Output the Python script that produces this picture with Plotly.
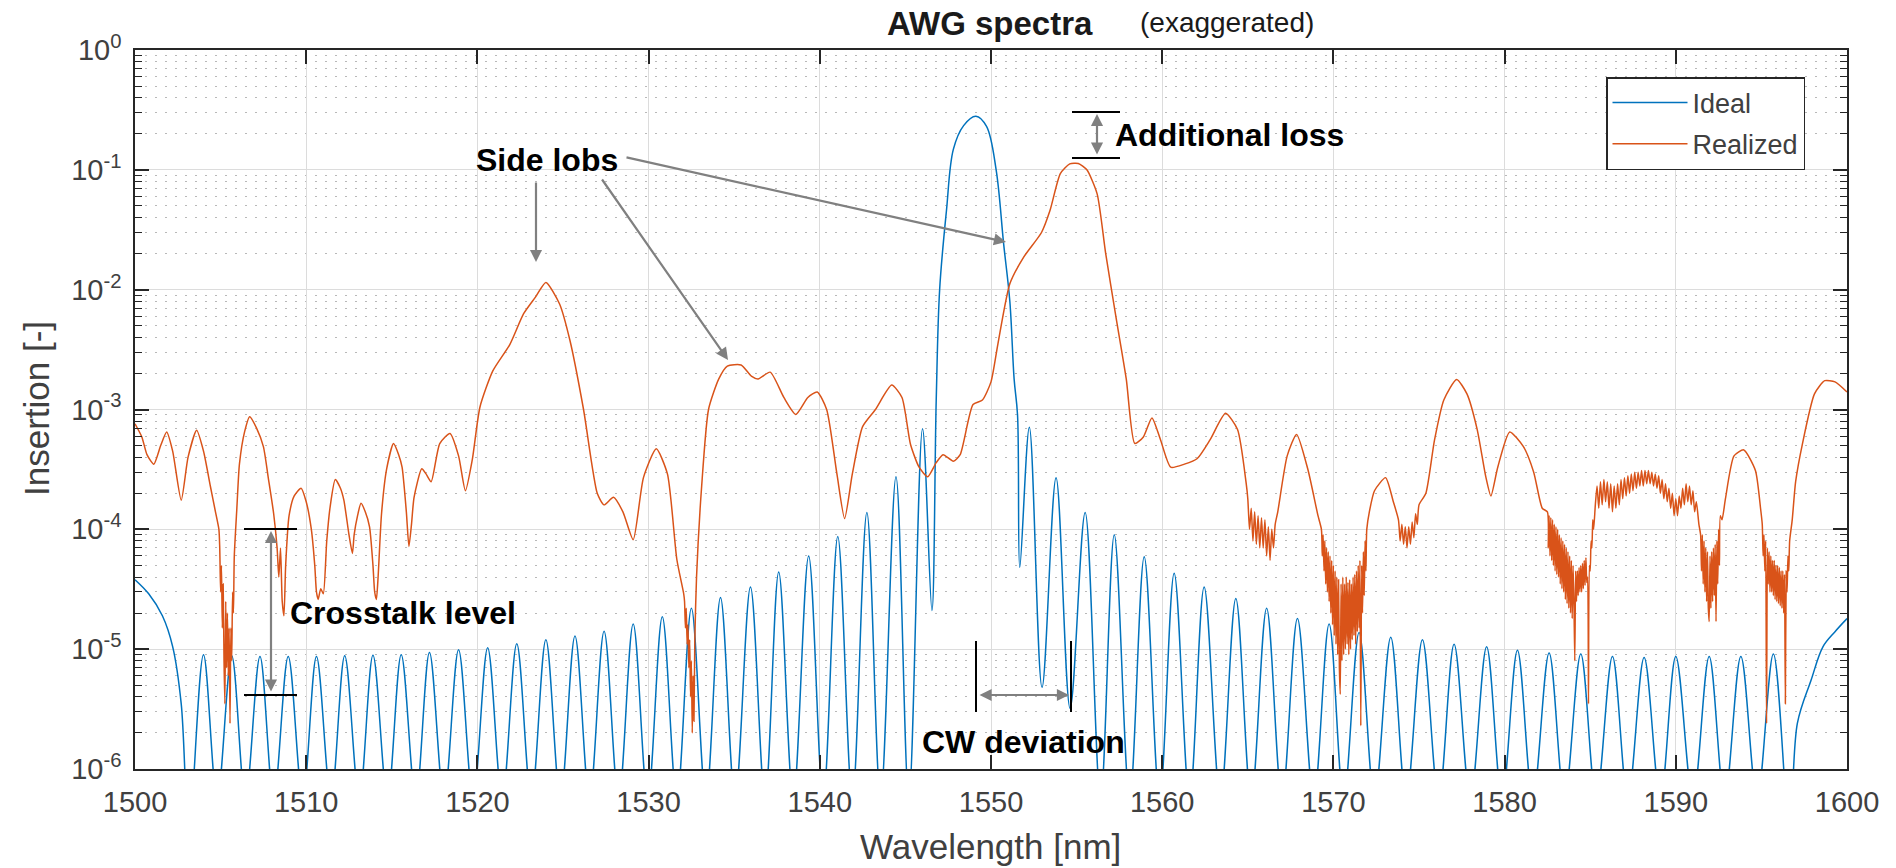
import plotly.graph_objects as go

# ---------------- data ----------------
x_ticks = [1500, 1510, 1520, 1530, 1540, 1550, 1560, 1570, 1580, 1590, 1600]
y_tick_vals = [1e-6, 1e-5, 1e-4, 1e-3, 1e-2, 1e-1, 1]
y_tick_text = ["10<sup>-6</sup>", "10<sup>-5</sup>", "10<sup>-4</sup>", "10<sup>-3</sup>",
               "10<sup>-2</sup>", "10<sup>-1</sup>", "10<sup>0</sup>"]

ideal_nm = [
    1500.0, 1500.8, 1501.6, 1502.2, 1502.7, 1503.15,
    1504.0, 1504.8, 1505.65, 1506.45, 1507.3, 1508.1, 1508.95, 1509.8, 1510.6, 1511.45,
    1512.25, 1513.1, 1513.9, 1514.75, 1515.55, 1516.4, 1517.2, 1518.05, 1518.9, 1519.75,
    1520.6, 1521.45, 1522.3, 1523.15, 1524.0, 1524.85, 1525.7, 1526.55, 1527.4, 1528.25,
    1529.1, 1529.95, 1530.8, 1531.65, 1532.5, 1533.35, 1534.2, 1535.05, 1535.95, 1536.8,
    1537.6, 1538.45, 1539.35, 1540.2, 1541.05, 1541.9, 1542.75, 1543.55, 1544.45, 1545.2,
    1546.0, 1546.55,
    1546.8, 1547.0, 1547.4, 1547.8, 1548.4, 1549.12, 1549.74, 1550.3, 1550.74, 1551.1,
    1551.35, 1551.55, 1551.68,
    1552.24, 1552.98, 1553.8, 1554.62, 1555.5, 1556.4, 1557.2, 1558.1, 1558.95, 1559.85,
    1560.7, 1561.6, 1562.45, 1563.4, 1564.3, 1565.2, 1566.1, 1567.0, 1567.9, 1568.85,
    1569.75, 1570.6, 1571.5, 1572.4, 1573.35, 1574.25, 1575.2, 1576.15, 1577.05, 1578.0,
    1578.95, 1579.85, 1580.75, 1581.65, 1582.6, 1583.5, 1584.45, 1585.35, 1586.3, 1587.2,
    1588.15, 1589.1, 1590.0, 1591.0, 1591.95, 1592.85, 1593.8, 1594.75, 1595.7, 1596.65,
    1597.1, 1597.9, 1598.6, 1599.3, 1600.0,
]
ideal_val = [
    3.8e-5, 2.9e-5, 1.9e-5, 1.05e-5, 3.5e-6, 3e-7,
    9.0e-6, 5.6e-7, 8.8e-6, 5.6e-7, 8.7e-6, 5.6e-7, 8.7e-6, 5.6e-7, 8.7e-6, 5.6e-7,
    8.8e-6, 5.6e-7, 8.9e-6, 5.6e-7, 9.0e-6, 5.6e-7, 9.4e-6, 5.6e-7, 9.9e-6, 5.6e-7,
    1.03e-5, 5.6e-7, 1.11e-5, 5.6e-7, 1.2e-5, 5.6e-7, 1.29e-5, 5.6e-7, 1.41e-5, 5.6e-7,
    1.62e-5, 5.6e-7, 1.86e-5, 5.6e-7, 2.2e-5, 5.6e-7, 2.7e-5, 5.6e-7, 3.3e-5, 5.6e-7,
    4.4e-5, 5.6e-7, 6.0e-5, 5.6e-7, 8.7e-5, 5.6e-7, 1.38e-4, 5.6e-7, 2.75e-4, 5.6e-7,
    6.9e-4, 2.1e-5,
    1.2e-3, 1.0e-2, 4.6e-2, 0.148, 0.234, 0.28, 0.23, 0.1, 2.4e-2, 8e-3,
    1.8e-3, 9e-4, 4.8e-5,
    7.1e-4, 4.8e-6, 2.7e-4, 3.2e-6, 1.38e-4, 5.6e-7, 9e-5, 5.6e-7, 5.9e-5, 5.6e-7,
    4.3e-5, 5.6e-7, 3.3e-5, 5.6e-7, 2.65e-5, 5.6e-7, 2.2e-5, 5.6e-7, 1.8e-5, 5.6e-7,
    1.62e-5, 5.6e-7, 1.38e-5, 5.6e-7, 1.26e-5, 5.6e-7, 1.2e-5, 5.6e-7, 1.1e-5, 5.6e-7,
    1.05e-5, 5.6e-7, 9.8e-6, 5.6e-7, 9.3e-6, 5.6e-7, 9.1e-6, 5.6e-7, 8.7e-6, 5.6e-7,
    8.5e-6, 5.6e-7, 8.7e-6, 5.6e-7, 8.7e-6, 5.6e-7, 8.7e-6, 5.6e-7, 9.1e-6, 3e-7,
    2.4e-6, 5.5e-6, 1.05e-5, 1.4e-5, 1.8e-5,
]

# (wavelength nm, insertion) pairs of the realized spectrum
realized_points = [
    (1500.0, 7.6e-4), (1500.4, 5.9e-4), (1500.7, 4.2e-4), (1501.1, 3.5e-4), (1501.5, 5.0e-4),
    (1501.85, 6.5e-4), (1502.2, 4.5e-4), (1502.7, 1.75e-4), (1503.1, 4.0e-4), (1503.6, 6.7e-4),
    (1504.0, 4.5e-4), (1504.4, 2.3e-4), (1504.7, 1.4e-4), (1504.9, 1.0e-4),
    (1504.95, 7e-5), (1505.0, 3e-5), (1505.05, 5e-5), (1505.1, 1.5e-5), (1505.15, 3.5e-5),
    (1505.2, 8e-6), (1505.25, 3.5e-6), (1505.3, 2.5e-5), (1505.35, 7e-6), (1505.4, 2e-5),
    (1505.45, 6e-6), (1505.5, 1.5e-5), (1505.55, 2.4e-6), (1505.6, 1.5e-5), (1505.65, 8e-6),
    (1505.7, 3e-5), (1505.75, 2e-5), (1505.8, 6e-5),
    (1505.95, 1.5e-4), (1506.1, 3.5e-4), (1506.4, 6.5e-4), (1506.7, 8.7e-4), (1507.1, 7e-4),
    (1507.5, 4.9e-4), (1507.8, 2.6e-4), (1508.1, 1.35e-4), (1508.3, 7e-5),
    (1508.4, 4e-5), (1508.5, 7e-5), (1508.6, 2.5e-5), (1508.7, 1.9e-5), (1508.8, 5e-5),
    (1509.0, 1.3e-4), (1509.3, 1.9e-4), (1509.7, 2.2e-4), (1510.0, 1.7e-4), (1510.3, 1.0e-4),
    (1510.5, 5e-5), (1510.6, 3e-5), (1510.7, 2.6e-5), (1510.85, 3.2e-5), (1511.0, 2.9e-5),
    (1511.2, 8e-5), (1511.4, 1.55e-4), (1511.7, 2.6e-4), (1512.0, 2.2e-4), (1512.2, 1.75e-4),
    (1512.5, 9e-5), (1512.7, 6.3e-5), (1512.8, 9e-5), (1513.0, 1.3e-4), (1513.2, 1.65e-4),
    (1513.45, 1.4e-4), (1513.7, 1.05e-4), (1513.9, 5e-5), (1514.0, 3e-5), (1514.1, 2.6e-5),
    (1514.2, 4e-5), (1514.4, 1.35e-4), (1514.7, 3.2e-4), (1515.1, 5.2e-4), (1515.4, 4.2e-4),
    (1515.6, 3.3e-4), (1515.85, 1.4e-4), (1516.0, 7.2e-5), (1516.15, 1.1e-4), (1516.3, 1.85e-4),
    (1516.75, 3.2e-4), (1517.0, 2.9e-4), (1517.3, 2.5e-4), (1517.8, 5.2e-4), (1518.4, 6.3e-4),
    (1518.9, 4.1e-4), (1519.3, 2.1e-4), (1519.7, 3.8e-4), (1520.15, 1.05e-3), (1520.9, 2.1e-3),
    (1521.9, 3.5e-3), (1522.7, 6.3e-3), (1523.4, 8.7e-3), (1524.0, 1.15e-2), (1524.8, 7.6e-3),
    (1525.4, 3.8e-3), (1526.2, 1.0e-3), (1527.0, 2.0e-4), (1527.4, 1.6e-4), (1527.95, 1.85e-4),
    (1528.5, 1.4e-4), (1529.1, 8.2e-5), (1529.7, 2.7e-4), (1530.45, 4.7e-4), (1531.1, 2.9e-4),
    (1531.65, 5.6e-5), (1532.05, 2.9e-5),
    (1532.1, 2.5e-5), (1532.15, 1.5e-5), (1532.2, 2.2e-5), (1532.25, 1.1e-5), (1532.3, 1.6e-5),
    (1532.35, 7e-6), (1532.4, 1.2e-5), (1532.45, 4e-6), (1532.5, 8e-6), (1532.55, 2e-6),
    (1532.6, 6e-6), (1532.65, 2.5e-6), (1532.7, 1.2e-5), (1532.8, 4e-5),
    (1533.1, 2.3e-4), (1533.5, 1.0e-3), (1534.1, 1.8e-3), (1534.6, 2.3e-3), (1535.4, 2.35e-3),
    (1536.0, 1.9e-3), (1536.4, 1.8e-3), (1537.1, 2.05e-3), (1537.9, 1.26e-3), (1538.6, 9.1e-4),
    (1539.3, 1.26e-3), (1539.85, 1.4e-3), (1540.4, 1.0e-3), (1541.0, 2.9e-4), (1541.45, 1.23e-4),
    (1541.9, 2.9e-4), (1542.5, 7.2e-4), (1543.25, 1.0e-3), (1544.2, 1.6e-3), (1544.8, 1.26e-3),
    (1545.3, 5.1e-4), (1545.8, 3.3e-4), (1546.3, 2.75e-4), (1546.8, 3.6e-4), (1547.2, 4.2e-4),
    (1547.8, 3.7e-4), (1548.2, 4.2e-4), (1548.95, 1.1e-3), (1549.5, 1.2e-3), (1550.0, 1.7e-3),
    (1550.4, 3.5e-3), (1551.1, 1.12e-2), (1551.9, 1.86e-2), (1552.95, 3.0e-2), (1553.45, 4.6e-2),
    (1554.05, 9.3e-2), (1554.6, 0.112), (1555.1, 0.113), (1555.6, 0.1), (1556.2, 6.3e-2),
    (1556.7, 2.0e-2), (1557.3, 5.9e-3), (1557.9, 1.8e-3), (1558.4, 5.2e-4), (1558.9, 5.9e-4),
    (1559.4, 8.5e-4), (1559.9, 5.6e-4), (1560.5, 3.3e-4), (1561.3, 3.5e-4), (1562.05, 3.9e-4),
    (1562.8, 5.6e-4), (1563.7, 9.3e-4), (1564.4, 6.8e-4), (1564.9, 2.45e-4),
    (1565.0, 1.8e-4), (1565.1, 1.0e-4), (1565.2, 1.5e-4), (1565.3, 8e-5), (1565.4, 1.4e-4),
    (1565.5, 7.5e-5), (1565.6, 1.3e-4), (1565.7, 7e-5), (1565.8, 1.25e-4), (1565.9, 7e-5),
    (1566.0, 1.2e-4), (1566.1, 6e-5), (1566.2, 1.05e-4), (1566.3, 5.5e-5), (1566.4, 1.0e-4),
    (1566.5, 7e-5), (1566.6, 1.1e-4),
    (1566.75, 1.4e-4), (1567.3, 4.1e-4), (1567.85, 6.2e-4), (1568.5, 3.2e-4), (1569.1, 1.3e-4),
    (1569.3, 1.0e-4), (1569.35, 6e-5), (1569.4, 9e-5), (1569.45, 4.5e-5), (1569.5, 8e-5),
    (1569.55, 3.5e-5), (1569.6, 7e-5), (1569.65, 3e-5), (1569.7, 6.5e-5), (1569.75, 2.5e-5),
    (1569.8, 6e-5), (1569.85, 2e-5), (1569.9, 5.5e-5), (1569.95, 1.6e-5), (1570.0, 5e-5),
    (1570.05, 1.3e-5), (1570.1, 4.5e-5), (1570.15, 1.1e-5), (1570.2, 4e-5), (1570.25, 9e-6),
    (1570.3, 3.8e-5), (1570.35, 7e-6), (1570.4, 4.2e-6), (1570.45, 3.5e-5), (1570.5, 8e-6),
    (1570.55, 4e-5), (1570.6, 9e-6), (1570.65, 3.5e-5), (1570.7, 1e-5), (1570.75, 4e-5),
    (1570.8, 1.1e-5), (1570.85, 3.6e-5), (1570.9, 9e-6), (1570.95, 3.8e-5), (1571.0, 1e-5),
    (1571.05, 3.5e-5), (1571.1, 1.2e-5), (1571.15, 4e-5), (1571.2, 1.3e-5), (1571.25, 4.2e-5),
    (1571.3, 1.1e-5), (1571.35, 4.5e-5), (1571.4, 1.4e-5), (1571.45, 5e-5), (1571.5, 1.5e-5),
    (1571.55, 5.5e-5), (1571.6, 2.3e-6), (1571.65, 5e-5), (1571.7, 2e-5), (1571.75, 6.5e-5),
    (1571.8, 2.8e-5), (1571.85, 8e-5), (1571.9, 4.5e-5), (1571.95, 1.0e-4),
    (1572.1, 1.4e-4), (1572.4, 2.1e-4), (1573.05, 2.7e-4), (1573.5, 1.7e-4),
    (1573.8, 1.2e-4), (1573.9, 8e-5), (1574.0, 1.1e-4), (1574.1, 7.5e-5), (1574.2, 1.05e-4),
    (1574.3, 7e-5), (1574.4, 1.05e-4), (1574.5, 7.5e-5), (1574.6, 1.15e-4), (1574.7, 8.5e-5),
    (1574.8, 1.35e-4), (1574.9, 1.1e-4), (1575.0, 1.6e-4),
    (1575.4, 2.0e-4), (1575.9, 5.5e-4), (1576.45, 1.2e-3), (1577.2, 1.78e-3), (1577.8, 1.35e-3),
    (1578.4, 6.8e-4), (1578.9, 2.75e-4), (1579.2, 1.9e-4), (1579.6, 3.3e-4), (1580.3, 6.5e-4),
    (1581.1, 4.9e-4), (1581.7, 3.0e-4), (1582.2, 1.5e-4),
    (1582.5, 1.4e-4), (1582.55, 7e-5), (1582.6, 1.3e-4), (1582.65, 6e-5), (1582.7, 1.25e-4),
    (1582.75, 5.5e-5), (1582.8, 1.2e-4), (1582.85, 5e-5), (1582.9, 1.1e-4), (1582.95, 4.5e-5),
    (1583.0, 1.05e-4), (1583.05, 4.2e-5), (1583.1, 1.0e-4), (1583.15, 4e-5), (1583.2, 9e-5),
    (1583.25, 3.5e-5), (1583.3, 8.5e-5), (1583.35, 3.2e-5), (1583.4, 8e-5), (1583.45, 3e-5),
    (1583.5, 7.5e-5), (1583.55, 2.6e-5), (1583.6, 7e-5), (1583.65, 2.4e-5), (1583.7, 6.5e-5),
    (1583.75, 2.2e-5), (1583.8, 6e-5), (1583.85, 2e-5), (1583.9, 5.5e-5), (1583.95, 1.8e-5),
    (1584.0, 5e-5), (1584.05, 2.5e-5), (1584.1, 8e-6), (1584.15, 4.5e-5), (1584.2, 2.5e-5),
    (1584.25, 4.5e-5), (1584.3, 2.8e-5), (1584.35, 4.8e-5), (1584.4, 3e-5), (1584.45, 5e-5),
    (1584.5, 3e-5), (1584.55, 5.2e-5), (1584.6, 3.2e-5), (1584.65, 5.5e-5), (1584.7, 3.4e-5),
    (1584.75, 5.8e-5), (1584.8, 3.6e-5), (1584.85, 4e-5), (1584.9, 3.5e-6), (1584.95, 5e-5),
    (1585.0, 4.5e-5), (1585.05, 8e-5), (1585.1, 7e-5), (1585.15, 1.2e-4), (1585.2, 1.0e-4),
    (1585.3, 1.6e-4), (1585.4, 2.3e-4), (1585.5, 1.5e-4), (1585.6, 2.5e-4), (1585.7, 1.6e-4),
    (1585.8, 2.6e-4), (1585.9, 1.7e-4), (1586.0, 2.5e-4), (1586.1, 1.5e-4), (1586.2, 2.4e-4),
    (1586.3, 1.4e-4), (1586.4, 2.3e-4), (1586.5, 1.5e-4), (1586.6, 2.4e-4), (1586.7, 1.6e-4),
    (1586.8, 2.6e-4), (1586.9, 1.8e-4), (1587.0, 2.7e-4), (1587.1, 1.9e-4), (1587.2, 2.8e-4),
    (1587.3, 2.0e-4), (1587.4, 2.9e-4), (1587.5, 2.1e-4), (1587.6, 3.0e-4), (1587.7, 2.2e-4),
    (1587.8, 3.0e-4), (1587.9, 2.3e-4), (1588.0, 3.1e-4), (1588.1, 2.3e-4), (1588.2, 3.1e-4),
    (1588.3, 2.4e-4), (1588.4, 3.1e-4), (1588.5, 2.4e-4), (1588.6, 3.0e-4), (1588.7, 2.3e-4),
    (1588.8, 2.9e-4), (1588.9, 2.2e-4), (1589.0, 2.8e-4), (1589.1, 2.0e-4), (1589.2, 2.6e-4),
    (1589.3, 1.8e-4), (1589.4, 2.4e-4), (1589.5, 1.7e-4), (1589.6, 2.2e-4), (1589.7, 1.5e-4),
    (1589.8, 2.0e-4), (1589.9, 1.3e-4), (1590.0, 1.8e-4), (1590.1, 1.3e-4), (1590.2, 1.9e-4),
    (1590.3, 1.5e-4), (1590.4, 2.2e-4), (1590.5, 1.6e-4), (1590.6, 2.4e-4), (1590.7, 1.7e-4),
    (1590.8, 2.3e-4), (1590.9, 1.6e-4), (1591.0, 2.1e-4), (1591.1, 1.4e-4), (1591.2, 1.7e-4),
    (1591.35, 1.1e-4),
    (1591.45, 9e-5), (1591.5, 4.5e-5), (1591.55, 9e-5), (1591.6, 3.5e-5), (1591.65, 8e-5),
    (1591.7, 3e-5), (1591.75, 7e-5), (1591.8, 2.5e-5), (1591.85, 6.5e-5), (1591.9, 2.2e-5),
    (1591.95, 1.7e-5), (1592.0, 6e-5), (1592.05, 2.2e-5), (1592.1, 6.5e-5), (1592.15, 2.5e-5),
    (1592.2, 7e-5), (1592.25, 2.8e-5), (1592.3, 7.5e-5), (1592.35, 1.7e-5), (1592.4, 8e-5),
    (1592.45, 3.5e-5), (1592.5, 1.0e-4), (1592.55, 5e-5), (1592.6, 1.3e-4), (1592.7, 1.2e-4),
    (1592.9, 1.8e-4), (1593.4, 4.1e-4), (1593.97, 4.6e-4), (1594.65, 3.1e-4), (1594.95, 1.5e-4),
    (1595.05, 1.1e-4), (1595.1, 6e-5), (1595.15, 9e-5), (1595.2, 4.5e-5), (1595.25, 8e-5),
    (1595.3, 2.4e-6), (1595.35, 7e-5), (1595.4, 3.5e-5), (1595.45, 6.5e-5), (1595.5, 3e-5),
    (1595.55, 6e-5), (1595.6, 3e-5), (1595.65, 5.5e-5), (1595.7, 2.8e-5), (1595.75, 5.5e-5),
    (1595.8, 2.6e-5), (1595.85, 5e-5), (1595.9, 2.5e-5), (1595.95, 5e-5), (1596.0, 2.4e-5),
    (1596.05, 4.8e-5), (1596.1, 2.3e-5), (1596.15, 4.5e-5), (1596.2, 2.2e-5), (1596.25, 4.5e-5),
    (1596.3, 2e-5), (1596.35, 4.2e-5), (1596.4, 3.5e-6), (1596.45, 4.5e-5), (1596.5, 3e-5),
    (1596.55, 6e-5), (1596.6, 4.5e-5), (1596.65, 8e-5),
    (1596.8, 1.2e-4), (1597.0, 2.5e-4), (1597.4, 5.2e-4), (1598.1, 1.35e-3), (1598.7, 1.74e-3),
    (1599.3, 1.7e-3), (1600.0, 1.4e-3),
]
realized_nm = [p[0] for p in realized_points]
realized_val = [p[1] for p in realized_points]

# ---------------- layout geometry (pixels of the 1896x868 page) ----------------
W, H = 1896, 868
L, R, T, B = 135, 1847, 50, 769
FONT = "Liberation Sans, Arial, Helvetica, sans-serif"
AXC = "#262626"
TXC = "#404040"
GRAY = "#808080"


def px(X, Y):
    return (X - L) / (R - L), (B - Y) / (B - T)


fig = go.Figure()
fig.add_trace(go.Scatter(x=ideal_nm, y=ideal_val, mode="lines", name="Ideal", legendgroup="a",
                         line=dict(color="#0072BD", width=1.5, shape="spline", smoothing=1.0)))
fig.add_trace(go.Scatter(x=realized_nm, y=realized_val, mode="lines", name="Realized", legendgroup="b",
                         line=dict(color="#D95319", width=1.5, shape="spline", smoothing=0.6)))

annotations = []
shapes = []

# Title pieces
tx, ty = px(990, 23)
annotations.append(dict(text="<b>AWG spectra</b>", x=tx, y=ty, xref="paper", yref="paper",
                        showarrow=False, xanchor="center", yanchor="middle",
                        font=dict(family=FONT, size=33, color="#1a1a1a")))
tx, ty = px(1227, 22)
annotations.append(dict(text="(exaggerated)", x=tx, y=ty, xref="paper", yref="paper",
                        showarrow=False, xanchor="center", yanchor="middle",
                        font=dict(family=FONT, size=28, color="#1a1a1a")))

# axis titles placed exactly
tx, ty = px(36, 409)
annotations.append(dict(text="Insertion [-]", x=tx, y=ty, xref="paper", yref="paper",
                        showarrow=False, xanchor="center", yanchor="middle", textangle=-90,
                        font=dict(family=FONT, size=35, color=TXC)))
tx, ty = px(990, 846)
annotations.append(dict(text="Wavelength [nm]", x=tx, y=ty, xref="paper", yref="paper",
                        showarrow=False, xanchor="center", yanchor="middle",
                        font=dict(family=FONT, size=35, color=TXC)))


def label(text, X, Y):
    x, y = px(X, Y)
    annotations.append(dict(text="<b>%s</b>" % text, x=x, y=y, xref="paper", yref="paper",
                            showarrow=False, xanchor="left", yanchor="middle",
                            font=dict(family=FONT, size=32, color="black")))


def arrow(tailX, tailY, tipX, tipY, double=False):
    x, y = px(tipX, tipY)
    annotations.append(dict(text="", x=x, y=y, xref="paper", yref="paper",
                            ax=tailX - tipX, ay=tailY - tipY, axref="pixel", ayref="pixel",
                            showarrow=True, arrowhead=2, startarrowhead=2, arrowsize=1.1,
                            arrowwidth=2.2, arrowcolor=GRAY, standoff=0, startstandoff=0,
                            arrowside="end+start" if double else "end"))


def bar(X0, Y0, X1, Y1):
    x0, y0 = px(X0, Y0)
    x1, y1 = px(X1, Y1)
    shapes.append(dict(type="line", xref="paper", yref="paper", x0=x0, y0=y0, x1=x1, y1=y1,
                       line=dict(color="black", width=2)))


# Side lobs
label("Side lobs", 474, 160)
arrow(536, 181, 536, 262)
arrow(601, 178, 728, 360)
arrow(625, 157, 1006, 242)

# Additional loss
bar(1072, 112, 1120, 112)
bar(1072, 158, 1120, 158)
arrow(1097, 156, 1097, 114, double=True)
label("Additional loss", 1113, 135)

# Crosstalk level
bar(244, 529, 297, 529)
bar(244, 695, 297, 695)
arrow(271, 693, 271, 531, double=True)
label("Crosstalk level", 288, 613)

# CW deviation
bar(976, 641, 976, 712)
bar(1071, 641, 1071, 712)
arrow(978, 695, 1069, 695, double=True)
label("CW deviation", 920, 742)

lx, ly = px(1606, 77)

fig.update_layout(
    width=W, height=H,
    margin=dict(l=L, r=W - R, t=T, b=H - B, pad=0, autoexpand=False),
    paper_bgcolor="white", plot_bgcolor="white",
    font=dict(family=FONT, color=AXC),
    showlegend=True,
    legend=dict(x=lx, y=ly, xanchor="left", yanchor="top", bgcolor="white",
                bordercolor=AXC, borderwidth=1.5, font=dict(family=FONT, size=27, color=TXC),
                itemwidth=75, tracegroupgap=3),
    annotations=annotations,
    shapes=shapes,
    xaxis=dict(range=[1500, 1600], tickmode="array", tickvals=x_ticks, automargin=False,
               ticks="inside", ticklen=14, tickwidth=1.5, tickcolor=AXC,
               showline=True, linecolor=AXC, linewidth=1.5, mirror="allticks",
               showgrid=True, gridcolor="#dcdcdc", gridwidth=1.2, zeroline=False,
               tickfont=dict(family=FONT, size=29, color=TXC), ticklabelstandoff=6),
    yaxis=dict(type="log", range=[-6, 0], tickmode="array", tickvals=y_tick_vals,
               ticktext=y_tick_text, automargin=False,
               ticks="inside", ticklen=14, tickwidth=1.5, tickcolor=AXC,
               showline=True, linecolor=AXC, linewidth=1.5, mirror="allticks",
               showgrid=True, gridcolor="#dcdcdc", gridwidth=1.2, zeroline=False,
               tickfont=dict(family=FONT, size=29, color=TXC), ticklabelstandoff=6,
               minor=dict(dtick="D1", ticks="inside", ticklen=7, tickwidth=1.2, tickcolor=AXC,
                          showgrid=True, gridcolor="#b8b8b8", griddash="2px,8px", gridwidth=1)),
)

fig.write_html("out.html", config={"displayModeBar": False},
               post_script="document.body.style.margin='0';document.body.style.overflow='hidden';")
